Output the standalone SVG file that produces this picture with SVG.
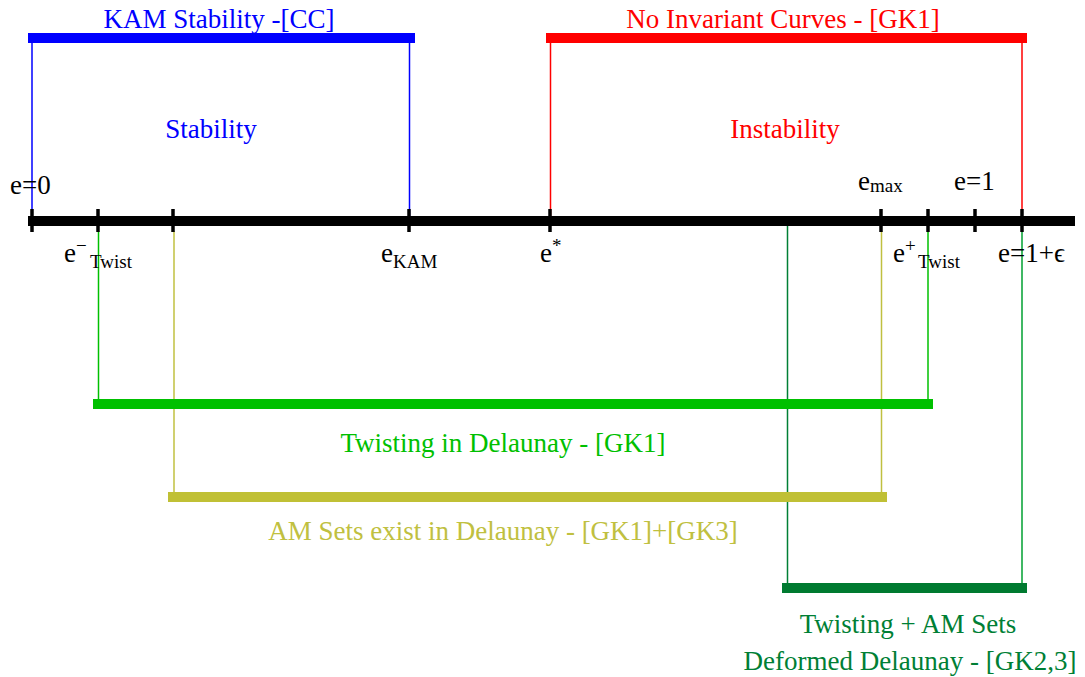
<svg xmlns="http://www.w3.org/2000/svg" width="1085" height="677" viewBox="0 0 1085 677">
<style>
text{font-family:"Liberation Serif","Times New Roman",serif;font-size:27px}
.m{text-anchor:middle}
.sub{font-size:19px}
.bar{stroke-width:10;stroke-linecap:butt}
.v{stroke-width:1.5;fill:none}
.tick{stroke:#000;stroke-width:3.5}
</style>
<rect width="1085" height="677" fill="#fff"/>
<g id="connectors">
<line class="v" x1="32" y1="43" x2="32" y2="216" stroke="#0000ff"/>
<line class="v" x1="409.5" y1="43" x2="409.5" y2="216" stroke="#0000ff"/>
<line class="v" x1="550.5" y1="43" x2="550.5" y2="216" stroke="#ff0000"/>
<line class="v" x1="1022" y1="43" x2="1022" y2="216" stroke="#ff0000"/>
<line class="v" x1="98.5" y1="231" x2="98.5" y2="400" stroke="#00c000"/>
<line class="v" x1="928" y1="231" x2="928" y2="400" stroke="#00c000"/>
<line class="v" x1="174" y1="231" x2="174" y2="492" stroke="#c0c040"/>
<line class="v" x1="881.5" y1="231" x2="881.5" y2="492" stroke="#c0c040"/>
<line class="v" x1="787.5" y1="221" x2="787.5" y2="583" stroke="#007f35"/>
<line class="v" x1="1022" y1="231" x2="1022" y2="583" stroke="#00a030"/>
</g>
<g id="axis">
<line x1="28" y1="221" x2="1075" y2="221" stroke="#000" stroke-width="10"/>
<line class="tick" x1="32" y1="209" x2="32" y2="232"/>
<line class="tick" x1="98" y1="209" x2="98" y2="232"/>
<line class="tick" x1="173" y1="209" x2="173" y2="232"/>
<line class="tick" x1="409" y1="209" x2="409" y2="232"/>
<line class="tick" x1="550" y1="209" x2="550" y2="232"/>
<line class="tick" x1="881" y1="209" x2="881" y2="232"/>
<line class="tick" x1="928" y1="209" x2="928" y2="232"/>
<line class="tick" x1="975" y1="209" x2="975" y2="232"/>
<line class="tick" x1="1022" y1="209" x2="1022" y2="232"/>
<text x="10" y="194">e=0</text>
<text x="64" y="262">e<tspan class="sub" dy="-10">−</tspan><tspan class="sub" x="90" y="268">Twist</tspan></text>
<text x="381" y="262">e<tspan class="sub" x="393" y="268">KAM</tspan></text>
<text x="540" y="262">e<tspan class="sub" dy="-10">*</tspan></text>
<text x="858" y="190">e<tspan class="sub" x="870" y="192">max</tspan></text>
<text x="954" y="190">e=1</text>
<text x="893" y="262">e<tspan class="sub" dy="-10">+</tspan><tspan class="sub" x="918" y="268">Twist</tspan></text>
<text x="998" y="262">e=1+ϵ</text>
</g>
<g id="kam">
<line class="bar" x1="28" y1="38" x2="415" y2="38" stroke="#0000ff"/>
<text class="m" x="219" y="28" fill="#0000ff">KAM Stability -[CC]</text>
<text class="m" x="211" y="138" fill="#0000ff">Stability</text>
</g>
<g id="noinv">
<line class="bar" x1="546" y1="38" x2="1027" y2="38" stroke="#ff0000"/>
<text class="m" x="783" y="28" fill="#ff0000">No Invariant Curves - [GK1]</text>
<text class="m" x="785" y="138" fill="#ff0000">Instability</text>
</g>
<g id="twisting">
<line class="bar" x1="93" y1="404" x2="933" y2="404" stroke="#00c000"/>
<text class="m" x="503" y="452" fill="#00c000">Twisting in Delaunay - [GK1]</text>
</g>
<g id="amsets">
<line class="bar" x1="168" y1="497" x2="887" y2="497" stroke="#c0c035"/>
<text class="m" x="503" y="540" fill="#c0c040">AM Sets exist in Delaunay - [GK1]+[GK3]</text>
</g>
<g id="deformed">
<line class="bar" x1="782" y1="588" x2="1027" y2="588" stroke="#007a30"/>
<text class="m" x="908" y="633" fill="#007f35">Twisting + AM Sets</text>
<text class="m" x="910" y="670" fill="#007f35">Deformed Delaunay - [GK2,3]</text>
</g>
</svg>
